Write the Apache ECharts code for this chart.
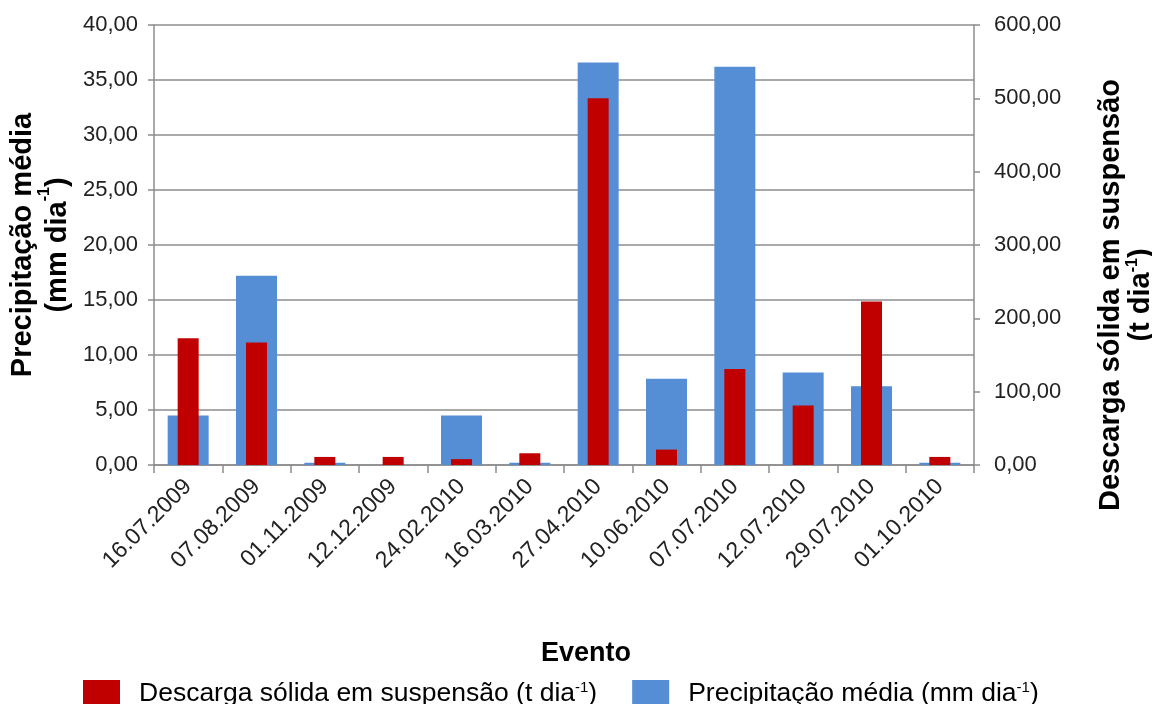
<!DOCTYPE html>
<html>
<head>
<meta charset="utf-8">
<script src="https://cdn.jsdelivr.net/npm/echarts@6/dist/echarts.min.js"></script>
<style>
html,body{margin:0;padding:0;background:#fff;}
#chart{width:1152px;height:704px;}
</style>
</head>
<body>
<div id="chart"></div>
<script>
const categories = ['16.07.2009','07.08.2009','01.11.2009','12.12.2009','24.02.2010','16.03.2010','27.04.2010','10.06.2010','07.07.2010','12.07.2010','29.07.2010','01.10.2010'];
const precipitacao = [4.5, 17.2, 0.2, 0, 4.5, 0.2, 36.6, 7.85, 36.2, 8.4, 7.15, 0.2];
const descarga = [173, 167, 11, 11, 8, 16, 500, 21, 131, 81, 223, 11];
const leftTicks = {min: 0, max: 40, interval: 5};
const rightTicks = {min: 0, max: 600, interval: 100};
const nameDescarga = 'Descarga sólida em suspensão (t dia-1)';
const namePrecip = 'Precipitação média (mm dia-1)';

const FONT = '"Liberation Sans", Arial, sans-serif';
const fmt = v => v.toFixed(2).replace('.', ',');

const chart = echarts.init(document.getElementById('chart'), null, {renderer: 'canvas'});
chart.setOption({
  animation: false,
  backgroundColor: '#ffffff',
  textStyle: {fontFamily: FONT},
  grid: {left: 154, right: 178, top: 25, bottom: 239, containLabel: false, outerBoundsMode: 'none'},
  legend: {
    left: 78, top: 675,
    itemWidth: 37, itemHeight: 27, itemGap: 35,
    icon: 'rect',
    data: [nameDescarga, namePrecip],
    formatter: function (n) {
      const base = n.replace('dia-1)', 'dia');
      return '{n|' + base + '}{s|-1}{n|)}';
    },
    textStyle: {
      padding: [0, 0, 0, 14],
      rich: {
        n: {fontFamily: FONT, fontSize: 26.5, color: '#000', verticalAlign: 'bottom', lineHeight: 27},
        s: {fontFamily: FONT, fontSize: 15, color: '#000', verticalAlign: 'top', lineHeight: 5}
      }
    }
  },
  xAxis: [{
    type: 'category',
    data: categories,
    name: 'Evento',
    nameLocation: 'middle',
    nameGap: 175,
    nameTextStyle: {fontFamily: FONT, fontSize: 27, fontWeight: 'bold', color: '#000', padding: [0, 0, 0, 44]},
    axisLine: {show: true, lineStyle: {color: '#8c8c8c', width: 1.5}},
    axisTick: {show: true, length: 8, lineStyle: {color: '#8c8c8c', width: 1.5}},
    axisLabel: {interval: 0, rotate: 45, margin: 18, fontFamily: FONT, fontSize: 23, color: '#222'},
    splitLine: {show: false}
  }, {
    type: 'category',
    data: categories,
    show: false
  }],
  yAxis: [{
    type: 'value',
    position: 'left',
    min: leftTicks.min, max: leftTicks.max, interval: leftTicks.interval,
    name: '{b|Precipitação média}\n{b|(mm dia}{s|-1}{b|)}',
    nameLocation: 'middle',
    nameRotate: 90,
    nameGap: 80,
    nameTextStyle: {
      rich: {
        b: {fontFamily: FONT, fontSize: 29, fontWeight: 'bold', color: '#000', lineHeight: 35, verticalAlign: 'bottom'},
        s: {fontFamily: FONT, fontSize: 16, fontWeight: 'bold', color: '#000', lineHeight: 8, verticalAlign: 'top'}
      }
    },
    axisLine: {show: true, lineStyle: {color: '#8c8c8c', width: 1.5}},
    axisTick: {show: true, length: 6, lineStyle: {color: '#8c8c8c', width: 1.5}},
    axisLabel: {margin: 16, fontFamily: FONT, fontSize: 22, color: '#222', formatter: fmt},
    splitLine: {show: true, lineStyle: {color: '#8c8c8c', width: 1.5}}
  }, {
    type: 'value',
    position: 'right',
    min: rightTicks.min, max: rightTicks.max, interval: rightTicks.interval,
    name: '{b|Descarga sólida em suspensão}\n{b|(t dia}{s|-1}{b|)}',
    nameLocation: 'middle',
    nameRotate: 90,
    nameGap: 121,
    nameTextStyle: {
      padding: [0, 100, 0, 0],
      rich: {
        b: {fontFamily: FONT, fontSize: 29, fontWeight: 'bold', color: '#000', lineHeight: 30, verticalAlign: 'bottom'},
        s: {fontFamily: FONT, fontSize: 16, fontWeight: 'bold', color: '#000', lineHeight: 6, verticalAlign: 'top'}
      }
    },
    axisLine: {show: true, lineStyle: {color: '#8c8c8c', width: 1.5}},
    axisTick: {show: true, length: 6, lineStyle: {color: '#8c8c8c', width: 1.5}},
    axisLabel: {margin: 20, fontFamily: FONT, fontSize: 22, color: '#222', formatter: fmt},
    splitLine: {show: false}
  }],
  series: [{
    name: namePrecip,
    type: 'bar',
    xAxisIndex: 0,
    yAxisIndex: 0,
    data: precipitacao,
    barWidth: 41,
    itemStyle: {color: '#558ED5'},
    z: 2
  }, {
    name: nameDescarga,
    type: 'bar',
    xAxisIndex: 1,
    yAxisIndex: 1,
    data: descarga,
    barWidth: 21,
    itemStyle: {color: '#C00000'},
    z: 3
  }]
});
</script>
</body>
</html>
